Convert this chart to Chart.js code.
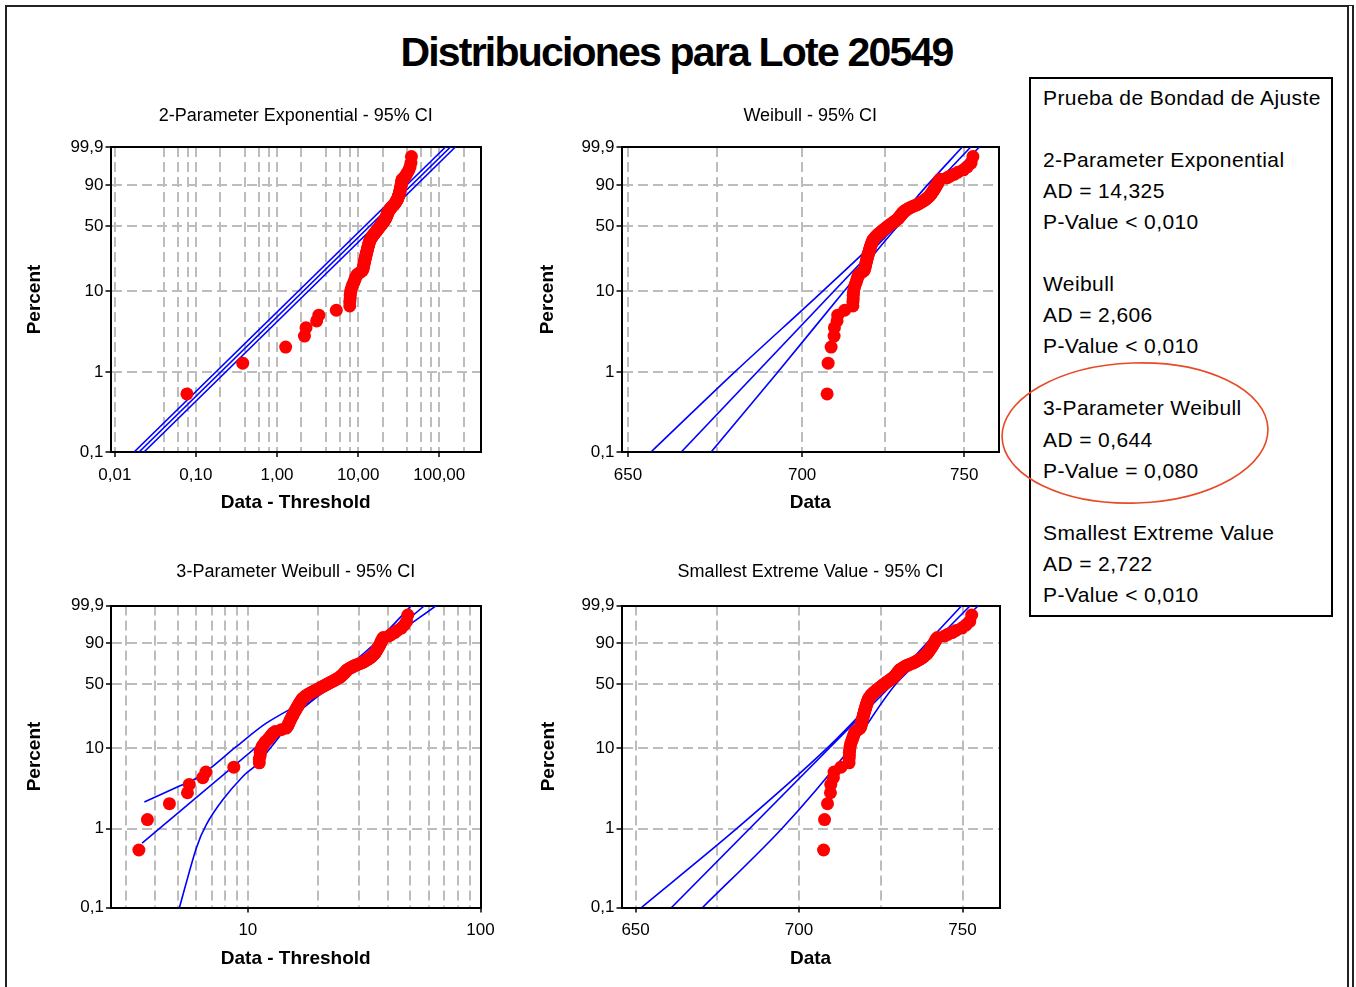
<!DOCTYPE html>
<html><head><meta charset="utf-8">
<script src="https://cdn.jsdelivr.net/npm/chart.js@4.4.1/dist/chart.umd.min.js"></script>
<style>
html,body{margin:0;padding:0;background:#fff;}
body{width:1356px;height:987px;position:relative;overflow:hidden;font-family:"Liberation Sans",Arial,sans-serif;}
#frame{position:absolute;left:5px;top:5px;width:1349px;height:1000px;box-sizing:border-box;border-left:2px solid #222;border-top:2px solid #222;border-right:7px double #222;}
#title{position:absolute;left:0;top:32px;width:1353px;text-align:center;font-size:41px;line-height:41px;font-weight:bold;letter-spacing:-1.8px;color:#000;}
canvas{position:absolute;}
#gof{position:absolute;left:1029px;top:77px;width:304px;height:540px;box-sizing:border-box;border:2px solid #000;padding:2.5px 0 0 12px;font-size:21px;line-height:31.1px;color:#000;white-space:pre;letter-spacing:0.4px;}
#ov{position:absolute;left:0;top:0;}
</style></head><body>
<div id="frame"></div>
<div id="title">Distribuciones para Lote 20549</div>
<canvas id="p1"></canvas>
<canvas id="p2"></canvas>
<canvas id="p3"></canvas>
<canvas id="p4"></canvas>
<div id="gof"></div>
<svg id="ov" width="1356" height="987"><ellipse cx="1135" cy="433" rx="133" ry="70" transform="rotate(-2 1135 433)" fill="none" stroke="#e84a27" stroke-width="1.6"/></svg>
<script>
// ---------- data ----------
const percentTicks = [0.1, 1, 10, 50, 90, 99.9];
const percentTickLabels = ['0,1', '1', '10', '50', '90', '99,9'];

// sorted sample values
const sampleData = [
  707.5, 707.8, 708.7, 709.6, 709.7, 710.5, 710.7, 712.8, 715.3, 715.3,
  715.4, 715.4, 715.5, 715.6, 715.8, 716.0, 716.3, 716.5, 716.7, 716.9,
  717.2, 718.0, 718.7, 718.9, 719.0, 719.1, 719.2, 719.3, 719.4, 719.5,
  719.6, 719.7, 719.8, 719.9, 720.0, 720.1, 720.2, 720.3, 720.4, 720.5,
  720.6, 720.7, 720.8, 720.9, 721.0, 721.1, 721.2, 721.3, 721.5, 721.7,
  721.9, 722.1, 722.4, 722.6, 722.9, 723.2, 723.5, 723.8, 724.1, 724.4,
  724.7, 725.0, 725.3, 725.6, 725.9, 726.2, 726.5, 726.8, 727.2, 727.5,
  727.8, 728.1, 728.4, 728.7, 729.0, 729.2, 729.4, 729.6, 729.8, 730.0,
  730.1, 730.3, 730.5, 730.6, 730.8, 731.1, 731.4, 731.8, 732.1, 732.5,
  732.9, 733.4, 733.9, 734.5, 735.1, 735.5, 735.9, 736.3, 736.7, 737.1,
  737.5, 737.8, 738.1, 738.4, 738.7, 739.0, 739.2, 739.4, 739.6, 739.8,
  740.0, 740.2, 740.4, 740.6, 740.8, 741.0, 741.2, 741.4, 741.6, 741.8,
  742.0, 742.3, 744.5, 745.5, 746.8, 748.0, 749.8, 751.0, 752.2, 752.8
];
const expThreshold = 707.4225;
const weib3Threshold = 704.1;

// fitted lines and 95% CI bands: [x, percent]
const expFit   = [[0.0199, 0.1], [137.5, 99.9]];
const expBandA = [[0.0173, 0.1], [119.6, 99.9]];
const expBandB = [[0.0229, 0.1], [158.1, 99.9]];

const weibFit   = [[664.9, 0.1], [752.1, 99.9]];
const weibBandA = [[656.4, 0.1], [680.1, 1], [706.1, 10], [727.0, 50], [738.4, 90], [749.4, 99.9]];
const weibBandB = [[673.4, 0.1], [692.7, 1], [712.6, 10], [729.1, 50], [742.7, 90], [754.9, 99.9]];

const w3Fit   = [[3.51, 0.656], [57.6, 99.9]];
const w3BandA = [[3.59, 2.17], [4.92, 3.3], [6.19, 4.52], [8.91, 10.5], [12.0, 19.8], [18.8, 38], [22.0, 50], [35.3, 90], [50.5, 99.9]];
const w3BandB = [[5.08, 0.1], [6.0, 0.567], [6.62, 1.12], [7.8, 2.31], [9.51, 4.52], [10.86, 6.3], [12.8, 11.0], [16.7, 26.7], [23.5, 50], [38.8, 90], [64.6, 99.9]];

const sevFit   = [[661.0, 0.1], [752.4, 99.9]];
const sevBandA = [[651.8, 0.1], [680.9, 1], [708.5, 10], [727.6, 50], [739.1, 90], [749.8, 99.9]];
const sevBandB = [[670.5, 0.1], [694.7, 1], [715.6, 10], [729.6, 50], [742.8, 90], [754.9, 99.9]];

// axis ticks
const expXTicks  = [0.01, 0.04, 0.06, 0.08, 0.1, 0.2, 0.4, 0.6, 0.8, 1, 2, 4, 6, 8, 10, 20, 40, 60, 80, 100, 200];
const expXLabels = ['0,01', '', '', '', '0,10', '', '', '', '', '1,00', '', '', '', '', '10,00', '', '', '', '', '100,00', ''];
const dataXTicks  = [650, 675, 700, 725, 750];
const dataXLabels = ['650', '', '700', '', '750'];
const w3XTicks  = [3, 4, 5, 6, 7, 8, 9, 10, 20, 30, 40, 50, 60, 70, 80, 90, 100];
const w3XLabels = ['', '', '', '', '', '', '', '10', '', '', '', '', '', '', '', '', '100'];

// goodness-of-fit box
const gofHeading = 'Prueba de Bondad de Ajuste';
const gofDistributions = ['2-Parameter Exponential', 'Weibull', '3-Parameter Weibull', 'Smallest Extreme Value'];
const gofAD = ['14,325', '2,606', '0,644', '2,722'];
const gofPValue = ['< 0,010', '< 0,010', '= 0,080', '< 0,010'];

// ---------- build ----------
const lines = [gofHeading, ''];
gofDistributions.forEach((d, i) => {
  lines.push(d, 'AD = ' + gofAD[i], 'P-Value ' + gofPValue[i]);
  if (i < gofDistributions.length - 1) lines.push('');
});
document.getElementById('gof').textContent = lines.join('\n');

Chart.defaults.font.family = '"Liberation Sans", Arial, sans-serif';
Chart.defaults.color = '#000';

const Q = p => Math.log(-Math.log(1 - p / 100));
class ProbabilityScale extends Chart.Scale {
  static id = 'probability';
  static defaults = {};
  parse(raw) { return raw == null ? null : +raw; }
  determineDataLimits() { this.min = this.options.min; this.max = this.options.max; }
  buildTicks() { return percentTicks.map(v => ({ value: v })); }
  configure() { super.configure(); this._qmin = Q(this.min); this._qrange = Q(this.max) - this._qmin; }
  getLabelForValue(v) { return String(v); }
  getPixelForValue(v) { return this.getPixelForDecimal((Q(v) - this._qmin) / this._qrange); }
  getValueForPixel(px) { const q = this._qmin + this.getDecimalForPixel(px) * this._qrange; return 100 * (1 - Math.exp(-Math.exp(q))); }
}
Chart.register(ProbabilityScale);

// median-rank plotting positions of the sorted sample
const n = sampleData.length;
const plotPos = sampleData.map((v, i) => 100 * (i + 1 - 0.3) / (n + 0.4));
const pts = shift => sampleData.map((v, i) => ({ x: v - shift, y: plotPos[i] }));

const GRID = '#bdbdbd';
const CLEAR = 'rgba(0,0,0,0)';

function buildPanel(id, s) {
  const cv = document.getElementById(id);
  const b = s.box, a = s.area;
  Object.assign(cv.style, { left: b.x + 'px', top: b.y + 'px', width: b.w + 'px', height: b.h + 'px' });
  cv.width = b.w; cv.height = b.h;
  const leftW = a.l - b.x, rightW = b.x + b.w - a.r, topH = a.t - b.y, botH = b.y + b.h - a.b;
  const inside = (v, lo, hi) => v > lo * 1.00001 && v < hi * 0.99999;
  new Chart(cv, {
    type: 'scatter',
    data: {
      datasets: [
        { data: s.points, xAxisID: 'x', yAxisID: 'y', pointRadius: 6.5, pointHoverRadius: 6.5, backgroundColor: '#ff0000', borderWidth: 0, showLine: false, clip: false },
        ...s.lines.map(ln => ({
          data: ln.map(([x, p]) => ({ x: x, y: p })), xAxisID: 'x', yAxisID: 'y',
          showLine: true, pointRadius: 0, borderColor: '#0000ff', borderWidth: 1.6,
          tension: ln.length > 2 ? 0.3 : 0, fill: false, clip: 0
        }))
      ]
    },
    options: {
      responsive: false, animation: false, devicePixelRatio: 1, events: [],
      layout: { padding: 0 },
      plugins: { legend: { display: false }, title: { display: false }, tooltip: { enabled: false } },
      scales: {
        x: {
          type: s.xType, position: 'bottom', min: s.xMin, max: s.xMax, bounds: 'data',
          afterBuildTicks: sc => { sc.ticks = s.xTicks.map(v => ({ value: v })); },
          afterFit: sc => { sc.height = botH; },
          ticks: { autoSkip: false, maxRotation: 0, minRotation: 0, padding: 8, color: '#000', font: { size: 17 }, callback: (v, i) => s.xLabels[i] },
          grid: {
            display: true, drawOnChartArea: true, drawTicks: true, tickLength: 5, lineWidth: 2, tickWidth: 1.5,
            color: c => (c.tick && inside(c.tick.value, s.xMin, s.xMax)) ? GRID : CLEAR,
            tickColor: c => (c.index !== undefined && s.xLabels[c.index]) ? '#000' : CLEAR,
            borderDash: [10, 5]
          },
          border: { display: true, color: '#000', width: 2, dash: [10, 5] },
          title: { display: true, text: s.xTitle, color: '#000', font: { size: 19, weight: 'bold' }, padding: { top: 0, bottom: s.xTitlePad } }
        },
        y: {
          type: 'probability', position: 'left', min: 0.1, max: 99.9,
          afterFit: sc => { sc.width = leftW; },
          ticks: { autoSkip: false, padding: 2, color: '#000', font: { size: 17 }, callback: (v, i) => percentTickLabels[i] },
          grid: {
            display: true, drawOnChartArea: true, drawTicks: true, tickLength: 5, lineWidth: 2, tickWidth: 1.5,
            color: c => (c.tick && c.tick.value > 0.1 && c.tick.value < 99.9) ? GRID : CLEAR,
            tickColor: '#000', borderDash: [10, 5]
          },
          border: { display: true, color: '#000', width: 2, dash: [10, 5] },
          title: { display: true, text: 'Percent', color: '#000', font: { size: 19, weight: 'bold' }, padding: { top: s.yTitlePad, bottom: 0 } }
        },
        xTop: {
          type: 'linear', position: 'top', min: 0, max: 1,
          afterFit: sc => { sc.height = topH; },
          ticks: { display: false }, grid: { display: false, drawTicks: false },
          border: { display: true, color: '#000', width: 2 },
          title: { display: true, text: s.subTitle, color: '#000', font: { size: 18 }, padding: { top: s.topTitlePad, bottom: 0 } }
        },
        yRight: {
          type: 'linear', position: 'right', min: 0, max: 1,
          afterFit: sc => { sc.width = rightW; },
          ticks: { display: false }, grid: { display: false, drawTicks: false },
          border: { display: true, color: '#000', width: 2 }
        }
      }
    }
  });
}

buildPanel('p1', {
  box: { x: 10, y: 95, w: 500, h: 440 }, area: { l: 110.5, r: 481, t: 147, b: 452 },
  xType: 'logarithmic', xMin: 0.00885, xMax: 327, xTicks: expXTicks, xLabels: expXLabels,
  xTitle: 'Data - Threshold', subTitle: '2-Parameter Exponential - 95% CI',
  xTitlePad: 20.6, yTitlePad: 13.6, topTitlePad: 10.2,
  points: pts(expThreshold), lines: [expBandA, expFit, expBandB]
});
buildPanel('p2', {
  box: { x: 528, y: 95, w: 500, h: 440 }, area: { l: 621.5, r: 999, t: 147, b: 452 },
  xType: 'logarithmic', xMin: 648.2, xMax: 761.2, xTicks: dataXTicks, xLabels: dataXLabels,
  xTitle: 'Data', subTitle: 'Weibull - 95% CI',
  xTitlePad: 20.6, yTitlePad: 8.6, topTitlePad: 10.2,
  points: pts(0), lines: [weibBandA, weibFit, weibBandB]
});
buildPanel('p3', {
  box: { x: 10, y: 550, w: 500, h: 435 }, area: { l: 111, r: 480.5, t: 605.5, b: 907.5 },
  xType: 'logarithmic', xMin: 2.58, xMax: 100, xTicks: w3XTicks, xLabels: w3XLabels,
  xTitle: 'Data - Threshold', subTitle: '3-Parameter Weibull - 95% CI',
  xTitlePad: 14.6, yTitlePad: 13.6, topTitlePad: 11.2,
  points: pts(weib3Threshold), lines: [w3BandA, w3Fit, w3BandB]
});
buildPanel('p4', {
  box: { x: 528, y: 550, w: 500, h: 435 }, area: { l: 621.5, r: 999.5, t: 605.5, b: 907.5 },
  xType: 'linear', xMin: 645.7, xMax: 761.3, xTicks: dataXTicks, xLabels: dataXLabels,
  xTitle: 'Data', subTitle: 'Smallest Extreme Value - 95% CI',
  xTitlePad: 14.6, yTitlePad: 9.6, topTitlePad: 11.2,
  points: pts(0), lines: [sevBandA, sevFit, sevBandB]
});
</script>
</body></html>
